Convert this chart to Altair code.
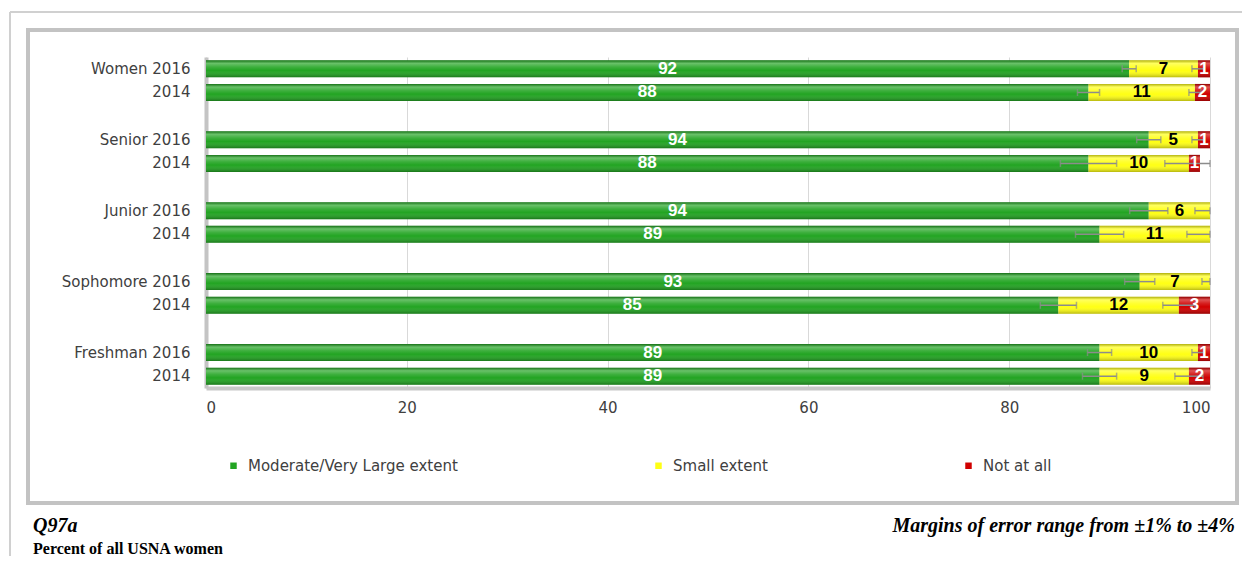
import altair as alt
import pandas as pd

# ---------------- data ----------------
groups = ["Women", "Senior", "Junior", "Sophomore", "Freshman"]
years = ["2016", "2014"]
categories = ["Moderate/Very Large extent", "Small extent", "Not at all"]
colors = ["#22a422", "#ffff14", "#d00000"]

# rows: Women 2016, Women 2014, Senior 2016, Senior 2014, ... Freshman 2014
moderate = [91.95, 87.9, 93.9, 87.9, 93.9, 89.0, 93.0, 84.9, 89.0, 89.0]
small = [6.85, 10.6, 4.9, 10.0, 6.1, 11.0, 7.0, 12.0, 9.8, 8.9]
not_at_all = [1.2, 1.5, 1.2, 1.1, 0.0, 0.0, 0.0, 3.1, 1.2, 2.1]

moderate_lbl = ["92", "88", "94", "88", "94", "89", "93", "85", "89", "89"]
small_lbl = ["7", "11", "5", "10", "6", "11", "7", "12", "10", "9"]
not_lbl = ["1", "2", "1", "1", "", "", "", "3", "1", "2"]

moe_moderate = [0.7, 1.1, 1.2, 2.8, 1.9, 2.4, 1.5, 1.8, 1.2, 1.7]
moe_small = [0.6, 0.6, 0.6, 2.4, 1.5, 2.3, 0.8, 1.6, 0.6, 1.4]

x_ticks = [0, 20, 40, 60, 80, 100]

# ---------------- tables ----------------
keys = []
row_keys = []
for gi, g in enumerate(groups):
    for yr in years:
        k = f"{g}  {yr}"
        keys.append(k)
        row_keys.append(k)
    if gi < len(groups) - 1:
        keys.append(f"gap{gi}")

recs = []
for i, k in enumerate(row_keys):
    for ci, (vals, lbls) in enumerate([(moderate, moderate_lbl), (small, small_lbl), (not_at_all, not_lbl)]):
        if vals[i] > 0:
            recs.append({"key": k, "cat": categories[ci], "ord": ci, "value": vals[i], "lbl": lbls[i]})
bar_df = pd.DataFrame(recs)

err = []
for i, k in enumerate(row_keys):
    c1 = moderate[i]
    c2 = moderate[i] + small[i]
    err.append({"key": k, "lo": c1 - moe_moderate[i], "hi": c1 + moe_moderate[i]})
    err.append({"key": k, "lo": c2 - moe_small[i], "hi": min(100.0, c2 + moe_small[i])})
err_df = pd.DataFrame(err)

dummy = pd.DataFrame({"a": [0]})

FONT = "DejaVu Sans"
LBL_COLOR = "#404040"

yscale = alt.Scale(domain=keys, paddingInner=0.28, paddingOuter=0.14)
xscale = alt.Scale(domain=[0, 100], nice=False, zero=True)

y_axis = alt.Axis(
    title=None,
    labelExpr="indexof(datum.value, 'gap') === 0 ? '' : (indexof(datum.value, '2014') > 0 ? '2014' : datum.value)",
    labelFont=FONT, labelFontSize=15, labelColor=LBL_COLOR, labelPadding=16,
    domainColor="#c4c4c4", domainWidth=4, ticks=False, grid=False,
)
x_axis = alt.Axis(
    title=None, values=x_ticks, labelFont=FONT, labelFontSize=15, labelColor=LBL_COLOR,
    labelPadding=12, ticks=False, domainColor="#c8c8c8", domainWidth=4,
    grid=True, gridColor="#d9d9d9", gridWidth=1,
)

def stacked(chart):
    return chart.transform_stack(
        stack="value", as_=["x0", "x1"], groupby=["key"],
        sort=[alt.SortField("ord", order="ascending")],
    )

bars = stacked(alt.Chart(bar_df)).mark_bar().encode(
    x=alt.X("x0:Q", scale=xscale, axis=x_axis),
    x2="x1:Q",
    y=alt.Y("key:N", scale=yscale, axis=y_axis),
    color=alt.Color(
        "cat:N",
        scale=alt.Scale(domain=categories, range=colors),
        legend=alt.Legend(
            title=None, orient="bottom", direction="horizontal", offset=23, padding=20,
            columnPadding=193, symbolType="square", symbolSize=42,
            symbolStrokeWidth=0, labelFont=FONT, labelFontSize=15, labelColor=LBL_COLOR,
            labelOffset=7, labelLimit=400,
        ),
    ),
)

shine = stacked(alt.Chart(bar_df)).mark_bar(
    color=alt.LinearGradient(
        gradient="linear", x1=0, x2=0, y1=0, y2=1,
        stops=[
            alt.GradientStop(color="rgba(0,0,0,0.30)", offset=0),
            alt.GradientStop(color="rgba(255,255,255,0.32)", offset=0.18),
            alt.GradientStop(color="rgba(255,255,255,0.12)", offset=0.4),
            alt.GradientStop(color="rgba(255,255,255,0)", offset=0.6),
            alt.GradientStop(color="rgba(0,0,0,0.28)", offset=1),
        ],
    )
).encode(
    x=alt.X("x0:Q", scale=xscale),
    x2="x1:Q",
    y=alt.Y("key:N", scale=yscale),
)

err_rule = alt.Chart(err_df).mark_rule(color="#8c8c8c", strokeWidth=1.5).encode(
    x=alt.X("lo:Q", scale=xscale),
    x2="hi:Q",
    y=alt.Y("key:N", scale=yscale),
)
err_lo = alt.Chart(err_df).mark_tick(color="#8c8c8c", thickness=1.5, size=7, orient="vertical").encode(
    x=alt.X("lo:Q", scale=xscale),
    y=alt.Y("key:N", scale=yscale),
)
err_hi = alt.Chart(err_df).mark_tick(color="#8c8c8c", thickness=1.5, size=7, orient="vertical").encode(
    x=alt.X("hi:Q", scale=xscale),
    y=alt.Y("key:N", scale=yscale),
)

labels = stacked(alt.Chart(bar_df)).transform_filter(
    "datum.lbl != ''"
).transform_calculate(
    mid="(datum.x0 + datum.x1) / 2",
    tc="datum.cat == 'Small extent' ? 'black' : 'white'",
).mark_text(
    font="Liberation Sans",
    fontWeight="bold", fontSize=17, baseline="middle", align="center",
).encode(
    x=alt.X("mid:Q", scale=xscale),
    y=alt.Y("key:N", scale=yscale),
    text="lbl:N",
    color=alt.Color("tc:N", scale=None),
)

frame = alt.Chart(dummy).mark_rect(fillOpacity=0, stroke="#c3c3c3", strokeWidth=4).encode(
    x=alt.value(-178), x2=alt.value(1031), y=alt.value(-27), y2=alt.value(446)
)
outer_left = alt.Chart(dummy).mark_rule(color="#d0d0d0", strokeWidth=2).encode(
    x=alt.value(-196), y=alt.value(-45), y2=alt.value(520)
)
outer_top = alt.Chart(dummy).mark_rule(color="#d0d0d0", strokeWidth=2).encode(
    x=alt.value(-196), x2=alt.value(1050), y=alt.value(-45)
)

q_text = alt.Chart(dummy).mark_text(
    text="Q97a", font="Liberation Serif", fontStyle="italic", fontWeight="bold",
    fontSize=20, align="left", baseline="alphabetic", color="black",
).encode(x=alt.value(-173), y=alt.value(475))
moe_text = alt.Chart(dummy).mark_text(
    text="Margins of error range from ±1% to ±4%", font="Liberation Serif", fontStyle="italic",
    fontWeight="bold", fontSize=20, align="right", baseline="alphabetic", color="black",
).encode(x=alt.value(1029), y=alt.value(475))
pct_text = alt.Chart(dummy).mark_text(
    text="Percent of all USNA women", font="Liberation Serif", fontWeight="bold",
    fontSize=16, align="left", baseline="alphabetic", color="black",
).encode(x=alt.value(-173), y=alt.value(497))

chart = alt.layer(
    outer_left, outer_top, frame, bars, shine, err_rule, err_lo, err_hi, labels,
    q_text, moe_text, pct_text
).properties(
    width=1004, height=331,
    padding={"left": 198, "top": 49, "right": 32, "bottom": 168},
    autosize=alt.AutoSizeParams(type="none"),
).configure_view(strokeWidth=0)

chart.save("out.html", embed_options={"renderer": "svg", "actions": False})
